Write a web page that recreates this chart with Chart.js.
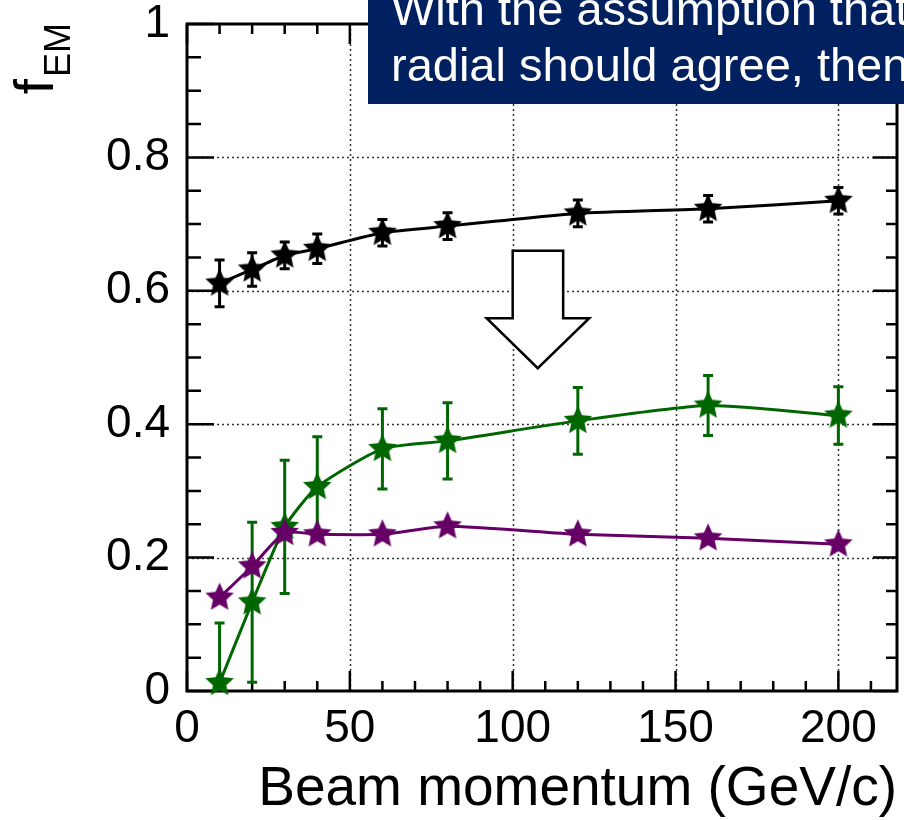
<!DOCTYPE html>
<html lang="en">
<head>
<meta charset="UTF-8">
<title>f_EM vs beam momentum</title>
<script src="https://cdn.jsdelivr.net/npm/chart.js"></script>
<style>
  html, body { margin: 0; padding: 0; background: #fff; }
  canvas { display: block; }
</style>
</head>
<body>
<canvas id="femChart" width="904" height="820"></canvas>
<script>
// beam momenta (GeV/c)
const momenta = [10, 20, 30, 40, 60, 80, 120, 160, 200];

// three f_EM series, with their error bars
const blackVals = [0.611, 0.632, 0.653, 0.663, 0.687, 0.697, 0.716, 0.723, 0.735];
const blackErr = [0.035, 0.025, 0.02, 0.022, 0.02, 0.02, 0.02, 0.02, 0.02];
const greenVals = [0.012, 0.133, 0.246, 0.306, 0.363, 0.375, 0.405, 0.428, 0.413];
const greenErr = [0.09, 0.12, 0.1, 0.075, 0.06, 0.057, 0.05, 0.045, 0.043];
const purpleVals = [0.140, 0.187, 0.237, 0.235, 0.235, 0.247, 0.235, 0.229, 0.220];

const xTicks = [0, 50, 100, 150, 200];
const xTickLabels = ['0', '50', '100', '150', '200'];
const yTicks = [0, 0.2, 0.4, 0.6, 0.8, 1];
const yTickLabels = ['0', '0.2', '0.4', '0.6', '0.8', '1'];

const FONT = "'Liberation Sans', Arial, Helvetica, sans-serif";
const GREEN = '#006600';
const PURPLE = '#660066';

// filled 5 point star used as marker
function starMarker(color) {
  const c = document.createElement('canvas');
  c.width = 32; c.height = 32;
  const g = c.getContext('2d');
  g.fillStyle = color;
  g.beginPath();
  for (let i = 0; i < 10; i++) {
    const r = i % 2 ? 7 : 15;
    const a = -Math.PI / 2 + i * Math.PI / 5;
    g.lineTo(16 + r * Math.cos(a), 16 + r * Math.sin(a));
  }
  g.closePath();
  g.fill();
  return c;
}

function points(vals) {
  return momenta.map((x, i) => ({ x: x, y: vals[i] }));
}

function series(vals, color, order) {
  return {
    data: points(vals),
    borderColor: color,
    backgroundColor: color,
    borderWidth: 3,
    pointStyle: starMarker(color),
    pointRadius: 15,
    tension: 0.2,
    clip: false,
    order: order
  };
}

const errorSets = [
  { vals: blackVals, err: blackErr, color: '#000' },
  { vals: greenVals, err: greenErr, color: GREEN }
];

const framePlugin = {
  id: 'frame',
  beforeDatasetsDraw(chart) {
    const ctx = chart.ctx;
    const a = chart.chartArea;
    const xs = chart.scales.x, ys = chart.scales.y;
    ctx.save();

    // dotted grid
    ctx.strokeStyle = 'rgba(0,0,0,0.8)';
    ctx.lineWidth = 1.5;
    ctx.setLineDash([2, 3]);
    ctx.beginPath();
    xTicks.slice(1).forEach(v => {
      const px = Math.round(xs.getPixelForValue(v)) + 0.5;
      ctx.moveTo(px, a.bottom); ctx.lineTo(px, a.top);
    });
    yTicks.slice(1, -1).forEach(v => {
      const py = Math.round(ys.getPixelForValue(v)) + 0.5;
      ctx.moveTo(a.left, py); ctx.lineTo(a.right, py);
    });
    ctx.stroke();
    ctx.setLineDash([]);

    // frame and inward ticks
    ctx.strokeStyle = '#000';
    ctx.lineWidth = 3;
    ctx.strokeRect(a.left, a.top, a.right - a.left, a.bottom - a.top);
    ctx.lineWidth = 2.5;
    ctx.beginPath();
    for (let v = 0; v <= xs.max; v += 10) {
      const px = xs.getPixelForValue(v);
      const len = v % 50 === 0 ? 20 : 10;
      ctx.moveTo(px, a.bottom); ctx.lineTo(px, a.bottom - len);
      ctx.moveTo(px, a.top); ctx.lineTo(px, a.top + len);
    }
    for (let k = 0; k <= 20; k++) {
      const py = ys.getPixelForValue(k * 0.05);
      const major = k % 4 === 0;
      ctx.moveTo(a.left, py); ctx.lineTo(a.left + (major ? 27 : 14), py);
      ctx.moveTo(a.right, py); ctx.lineTo(a.right - (major ? 24 : 11), py);
    }
    ctx.stroke();

    // error bars
    ctx.beginPath();
    ctx.rect(a.left, a.top, a.right - a.left, a.bottom - a.top);
    ctx.clip();
    ctx.lineWidth = 3;
    errorSets.forEach(s => {
      ctx.strokeStyle = s.color;
      ctx.beginPath();
      momenta.forEach((m, i) => {
        const px = xs.getPixelForValue(m);
        const top = ys.getPixelForValue(s.vals[i] + s.err[i]);
        const bot = ys.getPixelForValue(s.vals[i] - s.err[i]);
        ctx.moveTo(px, top); ctx.lineTo(px, bot);
        ctx.moveTo(px - 5, top); ctx.lineTo(px + 5, top);
        ctx.moveTo(px - 5, bot); ctx.lineTo(px + 5, bot);
      });
      ctx.stroke();
    });
    ctx.restore();
  },
  afterDraw(chart) {
    const ctx = chart.ctx;
    const a = chart.chartArea;
    const xs = chart.scales.x, ys = chart.scales.y;
    ctx.save();

    // hollow arrow pointing down
    const ax = v => xs.getPixelForValue(v);
    const ay = v => ys.getPixelForValue(v);
    ctx.beginPath();
    ctx.moveTo(ax(100), ay(0.66));
    ctx.lineTo(ax(115.5), ay(0.66));
    ctx.lineTo(ax(115.5), ay(0.559));
    ctx.lineTo(ax(123.5), ay(0.559));
    ctx.lineTo(ax(107.7), ay(0.484));
    ctx.lineTo(ax(92), ay(0.559));
    ctx.lineTo(ax(100), ay(0.559));
    ctx.closePath();
    ctx.fillStyle = '#fff';
    ctx.fill();
    ctx.strokeStyle = '#000';
    ctx.lineWidth = 2.5;
    ctx.lineJoin = 'miter';
    ctx.stroke();

    // y axis title f_EM, rotated, ending at the top of the axis
    ctx.save();
    ctx.translate(53, a.top - 1);
    ctx.rotate(-Math.PI / 2);
    ctx.fillStyle = '#000';
    ctx.textBaseline = 'alphabetic';
    ctx.textAlign = 'left';
    ctx.font = '36px ' + FONT;
    const wSub = ctx.measureText('EM').width;
    ctx.font = '55px ' + FONT;
    const wF = ctx.measureText('f').width;
    ctx.fillText('f', -(wSub + wF + 2), 0);
    ctx.font = '36px ' + FONT;
    ctx.fillText('EM', -wSub, 17);
    ctx.restore();

    // slide text box over the top
    ctx.fillStyle = '#002060';
    ctx.fillRect(368, 0, chart.width - 368, 104);
    ctx.fillStyle = '#fff';
    ctx.font = '47px ' + FONT;
    ctx.textAlign = 'left';
    ctx.textBaseline = 'alphabetic';
    ctx.fillText('With the assumption that', 391, 25);
    ctx.fillText('radial should agree, then', 391, 81);
    ctx.restore();
  }
};

const ctx = document.getElementById('femChart').getContext('2d');
const femChart = new Chart(ctx, {
  type: 'line',
  data: {
    datasets: [
      series(purpleVals, PURPLE, 1),
      series(greenVals, GREEN, 2),
      series(blackVals, '#000', 3)
    ]
  },
  options: {
    responsive: false,
    devicePixelRatio: 1,
    animation: false,
    events: [],
    layout: { autoPadding: false, padding: { top: 24, right: 7, left: 0, bottom: 0 } },
    plugins: {
      legend: { display: false },
      tooltip: { enabled: false }
    },
    scales: {
      x: {
        type: 'linear',
        min: 0,
        max: 218,
        afterBuildTicks: s => { s.ticks = xTicks.map(v => ({ value: v })); },
        afterFit: s => {
          s.height = 129;
          s.paddingLeft = 0;
          s.paddingRight = 0;
        },
        grid: { display: false, drawTicks: false },
        border: { display: false },
        ticks: {
          color: '#000',
          padding: 15,
          autoSkip: false,
          maxRotation: 0,
          font: { family: FONT, size: 46, lineHeight: 1 },
          callback: (v, i) => xTickLabels[i]
        },
        title: {
          display: true,
          text: 'Beam momentum (GeV/c)',
          align: 'end',
          color: '#000',
          font: { family: FONT, size: 55, lineHeight: 1 },
          padding: { top: 0, bottom: 3 }
        }
      },
      y: {
        type: 'linear',
        min: 0,
        max: 1,
        afterBuildTicks: s => { s.ticks = yTicks.map(v => ({ value: v })); },
        afterFit: s => {
          s.width = 187;
          s.paddingTop = 0;
          s.paddingBottom = 0;
        },
        grid: { display: false, drawTicks: false },
        border: { display: false },
        ticks: {
          color: '#000',
          padding: 17,
          autoSkip: false,
          font: { family: FONT, size: 46, lineHeight: 1 },
          callback: (v, i) => yTickLabels[i]
        }
      }
    }
  },
  plugins: [framePlugin]
});
</script>
</body>
</html>
